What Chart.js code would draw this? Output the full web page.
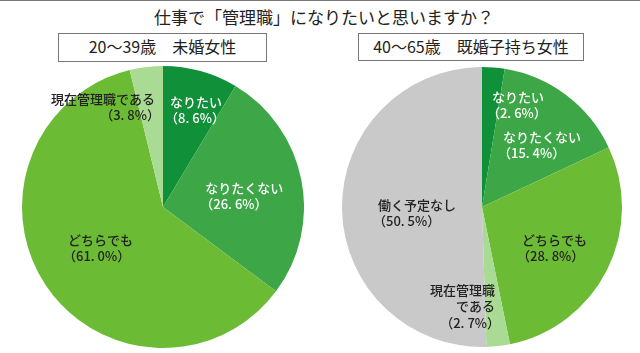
<!DOCTYPE html>
<html><head><meta charset="utf-8">
<script src="https://cdn.jsdelivr.net/npm/chart.js@4"></script>
<style>
html,body{margin:0;padding:0;background:#fff;}
body{width:640px;height:353px;position:relative;overflow:hidden;font-family:"Noto Sans CJK JP","Noto Sans",sans-serif;color:#222;}
#topline{position:absolute;left:0;top:0;width:640px;height:1px;background:#777;}
#title{position:absolute;left:0;width:648px;top:6px;text-align:center;font-size:17px;line-height:22px;}
.box{position:absolute;border:1.5px solid #777;box-sizing:border-box;text-align:center;font-size:16px;line-height:25px;}
.wrap{position:absolute;}
</style></head><body>
<div id="topline"></div>
<div id="title">仕事で「管理職」になりたいと思いますか？</div>
<div class="box" style="left:58px;top:33px;width:209px;height:29px;">20〜39歳　未婚女性</div>
<div class="box" style="left:358px;top:33px;width:226px;height:28px;">40〜65歳　既婚子持ち女性</div>
<div class="wrap" style="left:22px;top:66px;width:282px;height:282px;"><canvas id="c1"></canvas></div>
<div class="wrap" style="left:342px;top:67px;width:280px;height:280px;"><canvas id="c2"></canvas></div>
<script>
// Data
const leftCategories = ["なりたい","なりたくない","どちらでも","現在管理職である"];
const leftValues = [8.6, 26.6, 61.0, 3.8];
const rightCategories = ["なりたい","なりたくない","どちらでも","現在管理職である","働く予定なし"];
const rightValues = [2.6, 15.4, 28.8, 2.7, 50.5];

const leftColors = ["#109038","#3da747","#6cbb35","#aadb94"];
const rightColors = ["#109038","#3da747","#6cbb35","#aadb94","#c9c9c9"];

// label layout: lines, anchor in radius units from center, alignment, color
const leftLabels = [
  {lines:["なりたい"], fx:0.05, fy:-0.745, align:"left", color:"#fff"},
  {lines:["なりたくない"], fx:0.30, fy:-0.135, align:"left", color:"#fff"},
  {lines:["どちらでも"], fx:-0.674, fy:0.234, align:"left", color:"#222"},
  {lines:["現在管理職である"], fx:-0.057, fy:-0.766, align:"right", color:"#222"}
];
const rightLabels = [
  {lines:["なりたい"], fx:0.071, fy:-0.786, align:"left", color:"#fff"},
  {lines:["なりたくない"], fx:0.15, fy:-0.5, align:"left", color:"#fff"},
  {lines:["どちらでも"], fx:0.286, fy:0.236, align:"left", color:"#222"},
  {lines:["現在管理職","である"], fx:0.093, fy:0.593, align:"right", color:"#222"},
  {lines:["働く予定なし"], fx:-0.743, fy:-0.014, align:"left", color:"#222"}
];

function labelPlugin(labels){
  return {
    id:'sliceLabels',
    afterDatasetsDraw(chart){
      const ctx = chart.ctx;
      const arc = chart.getDatasetMeta(0).data[0];
      const cx = arc.x, cy = arc.y, R = arc.outerRadius;
      const vals = chart.data.datasets[0].data;
      ctx.save();
      ctx.font = '500 13px "Noto Sans CJK JP", sans-serif';
      ctx.textBaseline = 'middle';
      labels.forEach((lb,i)=>{
        const lines = lb.lines.concat(["（" + vals[i].toFixed(1).replace(".", ". ") + "%）"]);
        ctx.fillStyle = lb.color;
        ctx.textAlign = lb.align;
        const x = cx + lb.fx*R, y = cy + lb.fy*R;
        lines.forEach((t,j)=>{
          let xx = x;
          if (j===lines.length-1) xx = lb.align==="left" ? x-5 : x+5;
          ctx.fillText(t, xx, y + j*16.5);
        });
      });
      ctx.restore();
    }
  };
}

function makePie(id, cats, vals, colors, labels){
  new Chart(document.getElementById(id), {
    type:'pie',
    data:{labels:cats, datasets:[{data:vals, backgroundColor:colors, borderWidth:0}]},
    options:{
      responsive:true, maintainAspectRatio:false, animation:false,
      layout:{padding:0},
      plugins:{legend:{display:false}, tooltip:{enabled:false}}
    },
    plugins:[labelPlugin(labels)]
  });
}
makePie('c1', leftCategories, leftValues, leftColors, leftLabels);
makePie('c2', rightCategories, rightValues, rightColors, rightLabels);
</script>
</body></html>
